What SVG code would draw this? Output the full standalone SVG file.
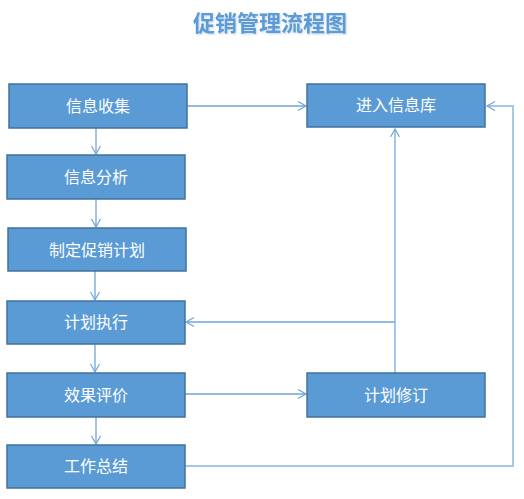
<svg xmlns="http://www.w3.org/2000/svg" width="524" height="499" viewBox="0 0 524 499">
<defs>
<marker id="arr" markerWidth="12" markerHeight="12" refX="9" refY="5" orient="auto" markerUnits="userSpaceOnUse">
<path d="M1,0.5 L9,5 L1,9.5" fill="none" stroke="#6fa5da" stroke-width="1.2"/>
</marker>
<filter id="sh" x="-10%" y="-20%" width="120%" height="140%">
<feGaussianBlur in="SourceAlpha" stdDeviation="1"/>
<feOffset dx="1" dy="1" result="b"/>
<feFlood flood-color="#9dbbd8" flood-opacity="0.6"/>
<feComposite in2="b" operator="in"/>
<feMerge><feMergeNode/><feMergeNode in="SourceGraphic"/></feMerge>
</filter>
</defs>
<style>
.box{fill:#5b9bd5;stroke:#41719c;stroke-width:1.5}
.lbl{fill:#ffffff;font-family:"Noto Sans CJK SC","Liberation Sans",sans-serif;font-size:16px;text-anchor:middle;dominant-baseline:central}
.c{fill:none;stroke:#6fa5da;stroke-width:1.3}
.c2{fill:none;stroke:#a5c8ea;stroke-width:2}
.title{fill:#5b9bd5;font-family:"Noto Sans CJK SC","Liberation Sans",sans-serif;font-size:22px;font-weight:bold;text-anchor:middle}
</style>
<rect width="524" height="499" fill="#ffffff"/>
<text class="title" x="270" y="31" filter="url(#sh)">促销管理流程图</text>
<g id="connectors">
<path class="c" d="M187,106 H306" marker-end="url(#arr)"/>
<path class="c" d="M96,128 V154" marker-end="url(#arr)"/>
<path class="c" d="M96,199 V227" marker-end="url(#arr)"/>
<path class="c" d="M95,271 V300" marker-end="url(#arr)"/>
<path class="c" d="M95,344 V372" marker-end="url(#arr)"/>
<path class="c" d="M96,417 V444" marker-end="url(#arr)"/>
<path class="c" d="M185,394 H306" marker-end="url(#arr)"/>
<path class="c2" d="M395,373 V129" marker-end="url(#arr)"/>
<path class="c" d="M395,322 H186" marker-end="url(#arr)"/>
<path class="c2" d="M185,466 H513 V106 H487" marker-end="url(#arr)"/>
</g>
<g id="n1"><rect class="box" x="9" y="84" width="178" height="44"/><text class="lbl" x="98" y="105">信息收集</text></g>
<g id="n2"><rect class="box" x="307" y="84" width="178" height="43"/><text class="lbl" x="396" y="104">进入信息库</text></g>
<g id="n3"><rect class="box" x="7" y="155" width="178" height="44"/><text class="lbl" x="96" y="176">信息分析</text></g>
<g id="n4"><rect class="box" x="8" y="228" width="178" height="43"/><text class="lbl" x="97" y="249">制定促销计划</text></g>
<g id="n5"><rect class="box" x="7" y="301" width="178" height="43"/><text class="lbl" x="96" y="321">计划执行</text></g>
<g id="n6"><rect class="box" x="7" y="373" width="178" height="44"/><text class="lbl" x="96" y="394">效果评价</text></g>
<g id="n7"><rect class="box" x="307" y="373" width="178" height="44"/><text class="lbl" x="396" y="394">计划修订</text></g>
<g id="n8"><rect class="box" x="7" y="445" width="178" height="43"/><text class="lbl" x="96" y="465">工作总结</text></g>
</svg>
